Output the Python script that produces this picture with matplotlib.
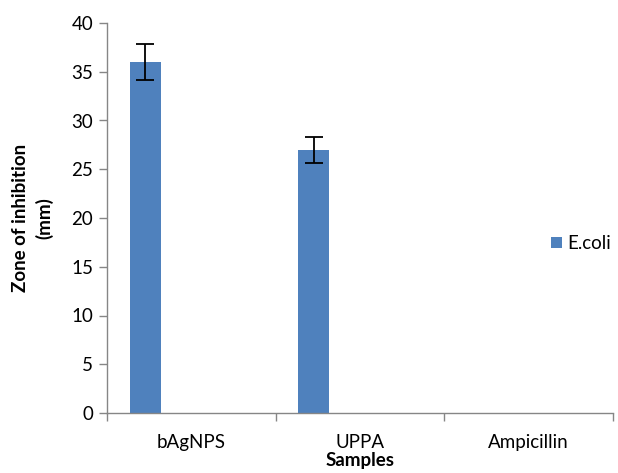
import matplotlib
matplotlib.use('Agg')
import matplotlib.pyplot as plt
import numpy as np

samples = ['bAgNPS', 'UPPA', 'Ampicillin']
ecoli = [36, 27, 0]
ecoli_err = [1.85, 1.35, 0]

plt.rcParams['font.family'] = ['Lato', 'DejaVu Sans']
fs = 13.5

fig = plt.figure(figsize=(6.18, 4.73), dpi=100)
ax = fig.add_axes([107 / 618, 60 / 473, 506 / 618, 390 / 473])

x = np.arange(len(samples))
offset = -0.274
ax.bar(x + offset, ecoli, width=0.185, color='#4F81BD', label='E.coli', zorder=2)
ax.errorbar(x[:2] + offset, ecoli[:2], yerr=ecoli_err[:2], fmt='none',
            ecolor='black', elinewidth=1.3, capsize=6.5, capthick=1.3, zorder=3)

ax.set_xlim(-0.5, 2.5)
ax.set_ylim(0, 40)
ax.set_yticks(range(0, 41, 5))
ax.set_xticks(x)
ax.set_xticklabels(samples)
ax.set_xticks([-0.5, 0.5, 1.5, 2.5], minor=True)
ax.tick_params(axis='x', which='major', length=0, pad=15, labelsize=fs)
ax.tick_params(axis='x', which='minor', length=6, color='#868686', width=1)
ax.tick_params(axis='y', length=6, color='#868686', width=1, labelsize=fs, pad=4)

for s in ['top', 'right']:
    ax.spines[s].set_visible(False)
for s in ['left', 'bottom']:
    ax.spines[s].set_color('#868686')
    ax.spines[s].set_linewidth(1)

ax.set_xlabel('Samples', fontweight='bold', fontsize=fs)
ax.xaxis.set_label_coords(0.5, -0.1)
ax.set_ylabel('Zone of inhibition\n(mm)', fontweight='bold', fontsize=fs, linespacing=1.45)
ax.yaxis.set_label_coords(-0.105, 0.5)

ax.legend(loc='center left', bbox_to_anchor=(0.845, 0.435), frameon=False,
          fontsize=fs, handlelength=0.55, handleheight=0.55, handletextpad=0.3)

fig.savefig('out.png', dpi=100)
